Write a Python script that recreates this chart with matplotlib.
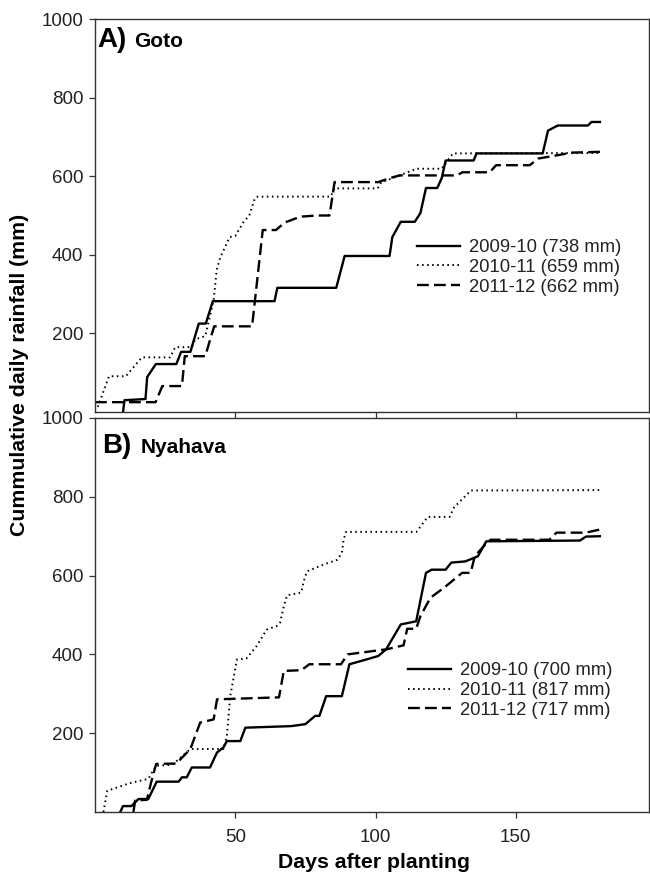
import matplotlib
matplotlib.use("Agg")
import matplotlib.pyplot as plt

plt.rcParams['font.family'] = ['Liberation Sans', 'DejaVu Sans']

# --- Goto (panel A) ---
goto_0910_day = [10, 10.5, 18, 18.6, 21.7, 29, 30.7, 34, 37, 39.5, 42, 64, 65, 86, 89, 105, 106, 109,
                 114, 116, 118, 122, 123.6, 125, 135, 136, 159.6, 161.5, 165, 175.7, 177, 180]
goto_0910_mm = [0, 30, 33, 89, 122, 122, 153, 153, 225, 225, 282, 282, 316, 316, 397, 397, 445, 484,
                484, 506, 570, 570, 595, 640, 640, 658, 658, 716, 729, 729, 738, 738]

goto_1011_day = [1, 5, 11, 16.7, 26.8, 28.6, 34.5, 35.7, 39.3, 41, 42.3, 43.4, 44.6, 48, 50, 53, 55, 57,
                 58, 84, 85.4, 100.8, 102, 108.6, 114.6, 123.6, 127.6, 180]
goto_1011_mm = [13, 91, 91, 139, 139, 165, 165, 185, 193, 244, 286, 362, 392, 445, 448, 484, 500, 544,
                548, 548, 569, 569, 584, 602, 619, 619, 658, 659]

goto_1112_day = [0, 21.6, 24, 31, 32, 39.3, 40.7, 42.5, 56, 59.8, 64.5, 67.6, 73.2, 79, 83.6, 85.4,
                 101, 105, 108.6, 129, 131, 140.7, 143, 155, 158, 164.6, 170, 180]
goto_1112_mm = [25, 25, 66, 66, 142, 142, 176, 218, 218, 463, 463, 482, 497, 500, 500, 585,
                585, 595, 602, 602, 610, 610, 628, 628, 645, 653, 660, 662]

# --- Nyahava (panel B) ---
nya_0910_day = [9, 10, 13, 15.5, 19, 22, 29.8, 31, 32.7, 34.5, 41, 43.5, 45.8, 47, 51.8, 53.6, 70, 75,
                78.5, 80, 82.4, 88, 90.7, 96.7, 101, 103.8, 109, 114.5, 118, 120, 125, 127, 132,
                136.5, 139.5, 172.9, 175, 180]
nya_0910_mm = [0, 15, 15, 33, 33, 77, 77, 88, 88, 113, 113, 151, 164, 180, 180, 214, 218, 223,
               244, 244, 294, 294, 375, 387, 396, 413, 476, 484, 607, 615, 615, 633, 636,
               649, 687, 689, 699, 700]

nya_1011_day = [3, 4.4, 12.3, 19, 21.7, 27.6, 34, 45.8, 47, 48.2, 50.6, 54, 57.6, 61.2, 64.8, 66,
                67.3, 68.5, 73.5, 74.6, 75.6, 81.5, 86.3, 88, 88.6, 89.5, 114.6, 118.6, 126.4,
                128, 134, 180]
nya_1011_mm = [0, 54, 73, 84, 117, 120, 160, 160, 193, 294, 387, 390, 421, 463, 472, 481,
               522, 550, 557, 590, 611, 628, 640, 657, 691, 711, 711, 749, 749,
               773, 816, 817]

nya_1112_day = [13.7, 14.3, 18.5, 20, 21.8, 29, 34, 37.5, 42.3, 43.5, 65.6, 67.3, 73.6, 76.4, 87.7,
                90, 104, 110, 111.3, 114.5, 116, 119.6, 124.4, 130.9, 133.9, 135.4, 139, 141,
                162, 164.5, 175, 180]
nya_1112_mm = [0, 29, 31, 75, 122, 123, 160, 227, 235, 286, 291, 358, 360, 375, 375,
               400, 413, 423, 465, 465, 497, 544, 569, 607, 607, 649, 678, 691,
               691, 709, 709, 717]

goto_labels = ['2009-10 (738 mm)', '2010-11 (659 mm)', '2011-12 (662 mm)']
nya_labels = ['2009-10 (700 mm)', '2010-11 (817 mm)', '2011-12 (717 mm)']
xticks = [50, 100, 150]
yticks = [200, 400, 600, 800, 1000]

styles = [dict(color='black', lw=1.7, ls='-'),
          dict(color='black', lw=1.4, ls=(0, (0.8, 1.8))),
          dict(color='black', lw=1.7, ls=(0, (5, 2.2)))]

fig = plt.figure(figsize=(6.5, 8.74), dpi=100)
axA = fig.add_axes([95/650, 1 - 412/874, 554/650, 393/874])
axB = fig.add_axes([95/650, 1 - 812/874, 554/650, 394/874])

spine_c = '#333333'


def setup(ax):
    ax.set_xlim(0, 197.5)
    ax.set_ylim(0, 1000)
    ax.set_yticks(yticks)
    ax.set_xticks(xticks)
    for s in ax.spines.values():
        s.set_color(spine_c)
        s.set_linewidth(1.0)
    ax.tick_params(direction='out', length=4.5, width=0.9, color=spine_c,
                   labelsize=13.5, labelcolor='#222222', pad=4)
    ax.tick_params(axis='x', pad=8)


setup(axA)
setup(axB)
axA.tick_params(axis='x', labelbottom=False)

seriesA = [(goto_0910_day, goto_0910_mm), (goto_1011_day, goto_1011_mm), (goto_1112_day, goto_1112_mm)]
seriesB = [(nya_0910_day, nya_0910_mm), (nya_1011_day, nya_1011_mm), (nya_1112_day, nya_1112_mm)]

for (d, v), lab, st in zip(seriesA, goto_labels, styles):
    axA.plot(d, v, label=lab, **st)
for (d, v), lab, st in zip(seriesB, nya_labels, styles):
    axB.plot(d, v, label=lab, **st)

leg_kw = dict(frameon=False, fontsize=13.3, handlelength=2.35, handletextpad=0.45,
              labelspacing=0.15, borderpad=0, borderaxespad=0, loc='upper left')
legA = axA.legend(bbox_to_anchor=(0.581, 0.44), **leg_kw)
legB = axB.legend(bbox_to_anchor=(0.565, 0.38), **leg_kw)
for leg in (legA, legB):
    for t in leg.get_texts():
        t.set_color('#222222')

# panel labels
axA.annotate('A)', xy=(0, 1), xycoords='axes fraction', xytext=(2, -20),
             textcoords='offset points', fontsize=20, fontweight='bold', va='baseline')
axA.annotate('Goto', xy=(0, 1), xycoords='axes fraction', xytext=(28, -20),
             textcoords='offset points', fontsize=15, fontweight='bold', va='baseline')
axB.annotate('B)', xy=(0, 1), xycoords='axes fraction', xytext=(5, -25),
             textcoords='offset points', fontsize=20, fontweight='bold', va='baseline')
axB.annotate('Nyahava', xy=(0, 1), xycoords='axes fraction', xytext=(33, -25),
             textcoords='offset points', fontsize=15, fontweight='bold', va='baseline')

fig.text(0.03, 0.571, 'Cummulative daily rainfall (mm)', rotation=90, ha='center', va='center',
         fontsize=15.3, fontweight='bold')
fig.text(0.575, 0.0126, 'Days after planting', ha='center', va='center',
         fontsize=15.3, fontweight='bold')

fig.savefig('out.png', dpi=100)
